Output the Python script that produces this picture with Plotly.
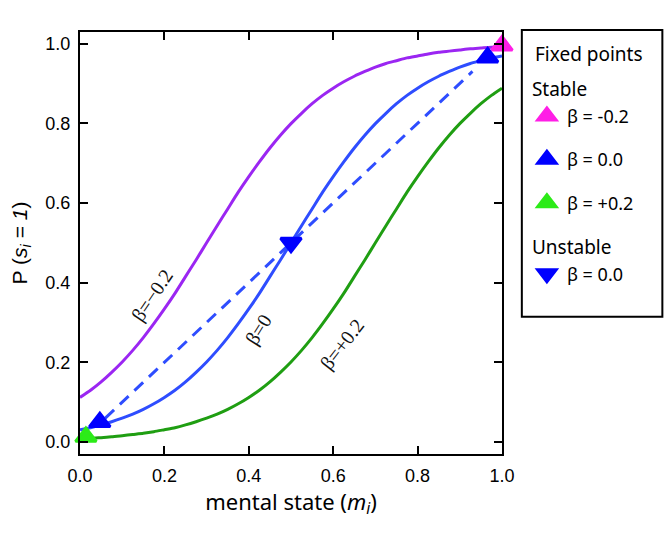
import plotly.graph_objects as go

# mental state m_i, sampled along each curve
m_vals = [0.0, 0.025, 0.05, 0.075, 0.1, 0.125, 0.15, 0.175, 0.2, 0.225,
          0.25, 0.275, 0.3, 0.325, 0.35, 0.375, 0.4, 0.425, 0.45, 0.475,
          0.5, 0.525, 0.55, 0.575, 0.6, 0.625, 0.65, 0.675, 0.7, 0.725,
          0.75, 0.775, 0.8, 0.825, 0.85, 0.875, 0.9, 0.925, 0.95, 0.975, 1.0]

# P(s_i = 1)
p_beta_neg = [0.112, 0.130, 0.151, 0.175, 0.201, 0.230, 0.262, 0.297, 0.334, 0.373,
              0.415, 0.457, 0.500, 0.543, 0.585, 0.627, 0.666, 0.703, 0.738, 0.770,
              0.799, 0.825, 0.849, 0.870, 0.888, 0.904, 0.918, 0.930, 0.941, 0.950,
              0.957, 0.964, 0.969, 0.974, 0.978, 0.981, 0.984, 0.987, 0.989, 0.991, 0.992]
p_beta_zero = [0.031, 0.036, 0.043, 0.051, 0.060, 0.070, 0.082, 0.096, 0.112, 0.130,
               0.151, 0.175, 0.201, 0.230, 0.262, 0.297, 0.334, 0.373, 0.415, 0.457,
               0.500, 0.543, 0.585, 0.627, 0.666, 0.703, 0.738, 0.770, 0.799, 0.825,
               0.849, 0.870, 0.888, 0.904, 0.918, 0.930, 0.941, 0.950, 0.957, 0.964, 0.969]
p_beta_pos = [0.008, 0.009, 0.011, 0.013, 0.016, 0.019, 0.022, 0.026, 0.031, 0.036,
              0.043, 0.051, 0.060, 0.070, 0.082, 0.096, 0.112, 0.130, 0.151, 0.175,
              0.201, 0.230, 0.262, 0.297, 0.334, 0.373, 0.415, 0.457, 0.500, 0.543,
              0.585, 0.627, 0.666, 0.703, 0.738, 0.770, 0.799, 0.825, 0.849, 0.870, 0.888]

# dashed diagonal between the beta = 0 fixed points
diag_x = [0.06, 0.93]
diag_y = [0.06, 0.93]

# fixed points
stable_neg = ([1.0], [0.995])
stable_zero = ([0.047, 0.966], [0.05, 0.965])
stable_pos = ([0.014], [0.013])
unstable_zero = ([0.5], [0.5])

# curve labels: (text, x, y, angle)
curve_labels = [('β=−0.2', 0.171, 0.369, -56),
                ('β=0', 0.422, 0.281, -58),
                ('β=+0.2', 0.621, 0.246, -52)]

PURPLE = '#9b26f2'
BLUE_LINE = '#2e4dff'
GREEN_LINE = '#1f9e12'
MAGENTA = '#ff1ee6'
BLUE_MARK = '#0000ff'
GREEN_MARK = '#2ceb18'

MSIZE = 18


def fixed_marker(color, symbol):
    # outline in the same colour lets the legend symbol grow past plotly's size cap
    return dict(symbol=symbol, size=MSIZE, color=color, line=dict(color=color, width=3))


fig = go.Figure()

# curves
fig.add_trace(go.Scatter(x=m_vals, y=p_beta_neg, mode='lines',
                         line=dict(color=PURPLE, width=3, shape='spline', smoothing=0.6),
                         showlegend=False))
fig.add_trace(go.Scatter(x=m_vals, y=p_beta_pos, mode='lines',
                         line=dict(color=GREEN_LINE, width=3, shape='spline', smoothing=0.6),
                         showlegend=False))
fig.add_trace(go.Scatter(x=diag_x, y=diag_y, mode='lines',
                         line=dict(color=BLUE_LINE, width=3, dash='12px,8px'),
                         showlegend=False))
fig.add_trace(go.Scatter(x=m_vals, y=p_beta_zero, mode='lines',
                         line=dict(color=BLUE_LINE, width=3, shape='spline', smoothing=0.6),
                         showlegend=False))

# fixed points (these make up the legend)
fig.add_trace(go.Scatter(x=stable_neg[0], y=stable_neg[1], mode='markers',
                         marker=fixed_marker(MAGENTA, 'triangle-up'),
                         name='β = -0.2', legendgroup='s1',
                         legendgrouptitle_text='Stable', cliponaxis=False))
fig.add_trace(go.Scatter(x=stable_zero[0], y=stable_zero[1], mode='markers',
                         marker=fixed_marker(BLUE_MARK, 'triangle-up'),
                         name='β = 0.0', legendgroup='s2', cliponaxis=False))
fig.add_trace(go.Scatter(x=stable_pos[0], y=stable_pos[1], mode='markers',
                         marker=fixed_marker(GREEN_MARK, 'triangle-up'),
                         name='β = +0.2', legendgroup='s3', cliponaxis=False))
fig.add_trace(go.Scatter(x=unstable_zero[0], y=unstable_zero[1], mode='markers',
                         marker=fixed_marker(BLUE_MARK, 'triangle-down'),
                         name='β = 0.0', legendgroup='u1',
                         legendgrouptitle_text='Unstable', cliponaxis=False))

for text, lx, ly, ang in curve_labels:
    fig.add_annotation(x=lx, y=ly, text=text, textangle=ang, showarrow=False,
                       font=dict(family='Liberation Serif', size=20, color='#111'))

# legend frame and heading
fig.add_shape(type='rect', xref='paper', yref='paper', x0=1.047, x1=1.38,
              y0=0.325, y1=1.005, line=dict(color='black', width=2),
              fillcolor='white', layer='below')
fig.add_annotation(xref='paper', yref='paper', x=1.073, y=0.948, xanchor='left',
                   yanchor='middle', text='Fixed points', showarrow=False,
                   font=dict(family='Noto Sans', size=19, color='black'))

axis_style = dict(showline=True, linecolor='black', linewidth=2, mirror='ticks',
                  ticks='inside', ticklen=8, tickwidth=1.5, tickcolor='black',
                  showgrid=False, zeroline=False, tickformat='.1f', dtick=0.2,
                  automargin=False,
                  tickfont=dict(family='Liberation Sans', size=18, color='black'))

fig.update_xaxes(range=[0, 1.0], ticklabelstandoff=4,
                 title=dict(text='mental state (<i>m</i><sub><i>i</i></sub>)',
                            font=dict(family='Noto Sans', size=22, color='black'),
                            standoff=8),
                 **axis_style)
fig.update_yaxes(range=[-0.03, 1.029], ticklabelstandoff=4,
                 title=dict(text='P (<i>s</i><sub><i>i</i></sub> = <i>1</i>)',
                            font=dict(family='Liberation Sans', size=21, color='black'),
                            standoff=14),
                 **axis_style)

# the page body adds an 8px offset, so the figure is sized to fit inside the window
fig.update_layout(
    width=656, height=512,
    margin=dict(l=72, r=162, t=24, b=66, autoexpand=False),
    plot_bgcolor='white', paper_bgcolor='white',
    legend=dict(x=1.059, y=0.91, xanchor='left', yanchor='top',
                borderwidth=0, bgcolor='rgba(0,0,0,0)',
                tracegroupgap=17, itemsizing='trace',
                font=dict(family='Noto Sans', size=18, color='black'),
                grouptitlefont=dict(family='Noto Sans', size=19, color='black')),
)

fig.write_html('out.html')
